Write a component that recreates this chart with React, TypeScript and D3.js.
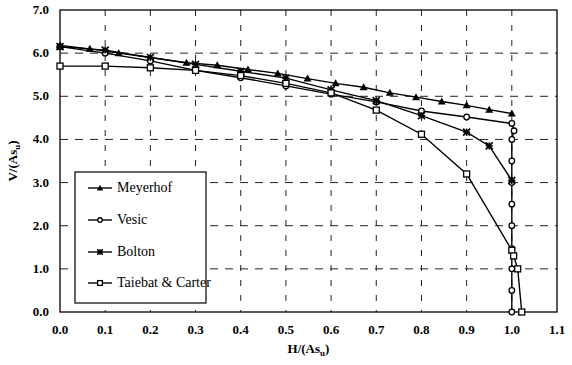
import React from "react";
import * as d3 from "d3";

const xTicks = [0, 0.1, 0.2, 0.3, 0.4, 0.5, 0.6, 0.7, 0.8, 0.9, 1.0, 1.1];
const yTicks = [0, 1, 2, 3, 4, 5, 6, 7];

const meyerhofH = [0, 0.066, 0.13, 0.2, 0.28, 0.348, 0.416, 0.482, 0.548, 0.61, 0.672, 0.73, 0.788, 0.845, 0.9, 0.95, 1.0];
const meyerhofV = [6.18, 6.1, 6.0, 5.9, 5.78, 5.72, 5.62, 5.53, 5.41, 5.3, 5.21, 5.08, 4.98, 4.88, 4.79, 4.69, 4.6];

const vesicH = [0, 0.1, 0.2, 0.3, 0.4, 0.5, 0.6, 0.7, 0.8, 0.9, 1.0, 1.005, 1.0, 1.0, 1.0, 1.0, 1.0, 1.0, 1.0, 1.0, 1.0];
const vesicV = [6.15, 6.0, 5.82, 5.6, 5.43, 5.24, 5.05, 4.87, 4.66, 4.52, 4.37, 4.2, 4.0, 3.5, 3.0, 2.5, 2.0, 1.47, 1.0, 0.5, 0];

const boltonH = [0, 0.1, 0.2, 0.3, 0.4, 0.5, 0.6, 0.7, 0.8, 0.9, 0.95, 1.0];
const boltonV = [6.15, 6.07, 5.9, 5.74, 5.58, 5.42, 5.15, 4.9, 4.55, 4.17, 3.85, 3.05];

const taiebatH = [0, 0.1, 0.2, 0.3, 0.4, 0.5, 0.6, 0.7, 0.8, 0.9, 1.0, 1.004, 1.013, 1.022];
const taiebatV = [5.7, 5.7, 5.66, 5.6, 5.48, 5.3, 5.08, 4.68, 4.12, 3.2, 1.43, 1.3, 1.0, 0];

const seriesNames = ["Meyerhof", "Vesic", "Bolton", "Taiebat & Carter"];

const W = 572, H = 365;
const L = 60, R = 557, T = 10, B = 312;
const font = "'Liberation Serif'";

const x = d3.scaleLinear().domain([0, 1.1]).range([L, R]);
const y = d3.scaleLinear().domain([0, 7]).range([B, T]);

type Pt = [number, number];
const zip = (a: number[], b: number[]): Pt[] => a.map((v, i) => [v, b[i]]);

const series = [
  { name: seriesNames[0], pts: zip(meyerhofH, meyerhofV), marker: "tri" },
  { name: seriesNames[1], pts: zip(vesicH, vesicV), marker: "circle" },
  { name: seriesNames[2], pts: zip(boltonH, boltonV), marker: "star" },
  { name: seriesNames[3], pts: zip(taiebatH, taiebatV), marker: "square" },
];

function Marker({ type, cx, cy, k = 1 }: { type: string; cx: number; cy: number; k?: number }) {
  if (type === "tri") {
    const s = 4 * k;
    return <path d={`M${cx},${cy - s} L${cx + s},${cy + s * 0.75} L${cx - s},${cy + s * 0.75} Z`} fill="#000" />;
  }
  if (type === "circle") {
    return <circle cx={cx} cy={cy} r={2.8 * k} fill="#fff" stroke="#000" strokeWidth={1.3} />;
  }
  if (type === "square") {
    const s = 3 * k;
    return <rect x={cx - s} y={cy - s} width={2 * s} height={2 * s} fill="#fff" stroke="#000" strokeWidth={1.3} />;
  }
  const s = 3.5 * k;
  return (
    <g stroke="#000" strokeWidth={1.6}>
      <line x1={cx - s} y1={cy - s} x2={cx + s} y2={cy + s} />
      <line x1={cx - s} y1={cy + s} x2={cx + s} y2={cy - s} />
      <line x1={cx - s} y1={cy} x2={cx + s} y2={cy} />
      <line x1={cx} y1={cy - s} x2={cx} y2={cy + s} />
    </g>
  );
}

export default function App() {
  const line = d3.line<Pt>().x((d) => x(d[0])).y((d) => y(d[1]));
  const legendY = [188, 220, 252, 283];
  const ts = { fontFamily: font };
  return (
    <svg width={W} height={H} style={{ position: "absolute", left: 0, top: 0, background: "#fff" }}>
      <rect x={0} y={0} width={W} height={H} fill="#fff" />
      {yTicks.slice(1, -1).map((t) => (
        <line key={"hy" + t} x1={L} x2={R} y1={y(t)} y2={y(t)} stroke="#222" strokeWidth={1} strokeDasharray="8,7" />
      ))}
      {xTicks.slice(1, -1).map((t) => (
        <line key={"vx" + t} x1={x(t)} x2={x(t)} y1={T} y2={B} stroke="#222" strokeWidth={1} strokeDasharray="6,9" />
      ))}
      <rect x={L} y={T} width={R - L} height={B - T} fill="none" stroke="#000" strokeWidth={1.3} />
      {yTicks.map((t) => (
        <text key={"yl" + t} x={L - 11} y={y(t) + 4} textAnchor="end" fontSize={13} fontWeight="bold" style={ts}>
          {t.toFixed(1)}
        </text>
      ))}
      {xTicks.map((t) => (
        <text key={"xl" + t} x={x(t)} y={B + 22} textAnchor="middle" fontSize={13} fontWeight="bold" style={ts}>
          {t.toFixed(1)}
        </text>
      ))}
      <text x={(L + R) / 2} y={B + 41} textAnchor="middle" fontSize={13} fontWeight="bold" style={ts}>
        H/(As<tspan fontSize={9} dy={3}>u</tspan><tspan dy={-3}>)</tspan>
      </text>
      <text transform={`translate(17,${(T + B) / 2}) rotate(-90)`} textAnchor="middle" fontSize={13} fontWeight="bold" style={ts}>
        V/(As<tspan fontSize={9} dy={3}>u</tspan><tspan dy={-3}>)</tspan>
      </text>
      {series.map((s) => (
        <path key={"l" + s.name} d={line(s.pts) || ""} fill="none" stroke="#000" strokeWidth={1.4} />
      ))}
      {series.map((s) => (
        <g key={"m" + s.name}>
          {s.pts.map((p, i) => (
            <Marker key={i} type={s.marker} cx={x(p[0])} cy={y(p[1])} />
          ))}
        </g>
      ))}
      <rect x={75} y={172} width={131} height={131} fill="#fff" stroke="#000" strokeWidth={1.2} />
      {series.map((s, i) => (
        <g key={"lg" + s.name}>
          <line x1={88} x2={112} y1={legendY[i]} y2={legendY[i]} stroke="#000" strokeWidth={1.4} />
          <Marker type={s.marker} cx={100} cy={legendY[i]} k={0.8} />
          <text x={117} y={legendY[i] + 4} fontSize={14} style={ts}>{s.name}</text>
        </g>
      ))}
    </svg>
  );
}
